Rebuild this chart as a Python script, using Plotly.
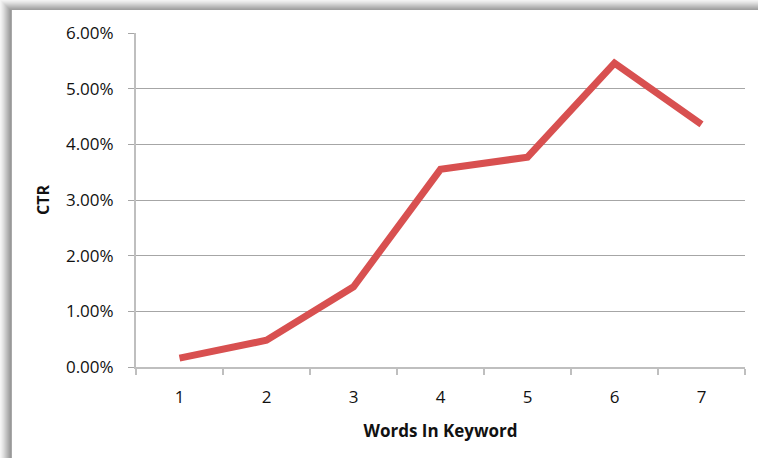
import plotly.graph_objects as go

words = ["1", "2", "3", "4", "5", "6", "7"]
ctr = [0.0016, 0.0048, 0.0144, 0.0355, 0.0377, 0.0546, 0.0436]
y_ticks = [0, 0.01, 0.02, 0.03, 0.04, 0.05, 0.06]
y_tick_labels = ["0.00%", "1.00%", "2.00%", "3.00%", "4.00%", "5.00%", "6.00%"]

W, H = 758, 458
L, R, T, B = 136, 13, 33, 91
PW, PH = W - L - R, H - T - B

def px(x):
    return (x - L) / PW

def py(y):
    return 1 - (y - T) / PH

fig = go.Figure()
fig.add_trace(go.Scatter(
    x=words, y=ctr, mode="lines",
    line=dict(color="#d85050", width=7),
    hoverinfo="skip", showlegend=False,
))

shapes = []
# top shadow band
top_cols = ["#f2f2f2", "#ebebeb", "#e3e3e3", "#dadada", "#d0d0d0", "#c6c6c6", "#bcbcbc", "#b2b2b2", "#a8a8a8", "#a0a0a0"]
for i, c in enumerate(top_cols):
    shapes.append(dict(type="rect", xref="paper", yref="paper",
                       x0=px(0), x1=px(W), y0=py(i), y1=py(i + 1),
                       fillcolor=c, line=dict(width=0), layer="below"))
left_cols = ["#f4f4f4", "#eeeeee", "#e6e6e6", "#dedede", "#d4d4d4", "#cacaca", "#c0c0c0", "#b6b6b6", "#acacac", "#a2a2a2", "#999999", "#a8a8a8"]
for i, c in enumerate(left_cols):
    shapes.append(dict(type="rect", xref="paper", yref="paper",
                       x0=px(i), x1=px(i + 1), y0=py(i if i < 10 else 10), y1=py(H),
                       fillcolor=c, line=dict(width=0), layer="below"))

fig.update_layout(
    width=W, height=H,
    margin=dict(l=L, r=R, t=T, b=B, pad=0),
    paper_bgcolor="white", plot_bgcolor="white",
    shapes=shapes,
    font=dict(family="Open Sans", size=17, color="#111111"),
    xaxis=dict(
        type="category", tickson="boundaries",
        ticks="outside", ticklen=6, tickcolor="#bfbfbf", tickwidth=2,
        showline=True, linecolor="#bfbfbf", linewidth=2,
        showgrid=False, range=[-0.5, 6.5],
        ticklabelstandoff=14,
        title=dict(text="<b>Words In Keyword</b>", font=dict(size=17), standoff=18),
    ),
    yaxis=dict(
        range=[0, 0.06], tickvals=y_ticks, ticktext=y_tick_labels,
        ticks="outside", ticklen=6, tickcolor="#a6a6a6", tickwidth=1,
        showline=True, linecolor="#bfbfbf", linewidth=2,
        showgrid=True, gridcolor="#a6a6a6", gridwidth=1.2,
        zeroline=False, ticklabelstandoff=11,
        title=dict(text="<b>CTR</b>", font=dict(size=16), standoff=12),
    ),
)

fig.write_html("out.html", post_script="document.body.style.margin='0px';",
               config={"displayModeBar": False})
